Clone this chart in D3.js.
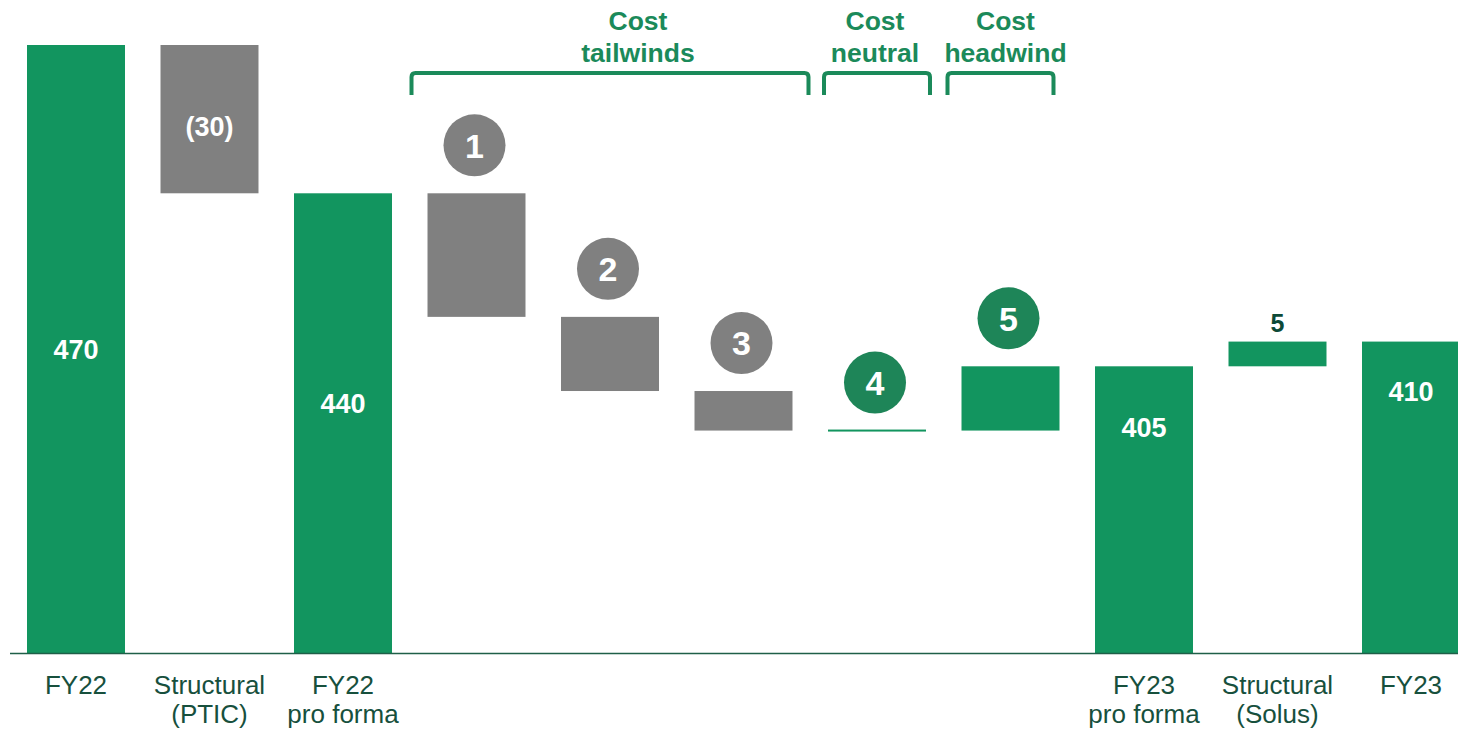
<!DOCTYPE html>
<html><head><meta charset="utf-8">
<script src="https://cdn.jsdelivr.net/npm/d3@7"></script>
<style>
html,body{margin:0;padding:0;background:#fff;}
svg{display:block;font-family:"Liberation Sans",Arial,sans-serif;}
</style></head>
<body><svg id="c" width="1458" height="729"></svg>
<script>
// ---- data ----
const categories = ["FY22","Structural (PTIC)","FY22 pro forma","Step 1","Step 2","Step 3","Step 4","Step 5","FY23 pro forma","Structural (Solus)","FY23"];
const axisLabels = [["FY22"],["Structural","(PTIC)"],["FY22","pro forma"],[""],[""],[""],[""],[""],["FY23","pro forma"],["Structural","(Solus)"],["FY23"]];
const kinds = ["total","delta","total","delta","delta","delta","delta","delta","total","delta","total"];
const values = [470,-30,440,-25,-15,-8,0,13,405,5,410];
const valueLabels = ["470","(30)","440","","","","","","405","5","410"];
const markers = ["","","","1","2","3","4","5","","",""];
const groups = [
  {label:["Cost","tailwinds"], from:3, to:5},
  {label:["Cost","neutral"], from:6, to:6},
  {label:["Cost","headwind"], from:7, to:7}
];

// ---- build waterfall ----
let run = 0;
const bars = categories.map((c,i)=>{
  let y0,y1;
  if(kinds[i]==="total"){ y0 = 347; y1 = values[i]; run = values[i]; }
  else { y0 = run; y1 = run + values[i]; run = y1; }
  return {c,i,kind:kinds[i],v:values[i],lo:Math.min(y0,y1),hi:Math.max(y0,y1),label:valueLabels[i],marker:markers[i]};
});

const GREEN="#12955f", GREY="#808080", DARKG="#1e8558", TXTG="#1b8a5a", AXG="#17503d";
const svg = d3.select("#c");
const x = d3.scaleBand().domain(categories).range([9.25,1477.75]).paddingInner(0.266).paddingOuter(0.133);
const y = d3.scaleLinear().domain([347,470]).range([653,45]);
const bw = x.bandwidth();

function barColor(b){
  if(b.kind==="total") return GREEN;
  if(b.c==="Structural (PTIC)") return GREY;
  if(b.c==="Structural (Solus)") return GREEN;
  return b.v<0 ? GREY : GREEN;
}

svg.append("g").selectAll("rect").data(bars).join("rect")
  .attr("x",d=>x(d.c)).attr("width",bw)
  .attr("y",d=> d.hi===d.lo ? y(d.hi)-1 : y(d.hi))
  .attr("height",d=> Math.max(2, y(d.lo)-y(d.hi)))
  .attr("fill",barColor);

// baseline
svg.append("line").attr("x1",10).attr("x2",1458).attr("y1",653.5).attr("y2",653.5)
  .attr("stroke","#1f5f48").attr("stroke-width",1.5);

// value labels
const labelOffset = {"FY22":304,"FY22 pro forma":210,"FY23 pro forma":61,"FY23":50};
svg.append("g").selectAll("text").data(bars.filter(b=>b.label)).join("text")
  .attr("x",d=>x(d.c)+bw/2)
  .attr("y",d=>{
    if(d.kind==="total") return y(d.hi)+labelOffset[d.c];
    if(d.v<0) return (y(d.hi)+y(d.lo))/2+7;
    return y(d.hi)-19;
  })
  .attr("dy","0.36em").attr("text-anchor","middle")
  .attr("font-size",d=> (d.kind==="delta" && d.v>0) ? 25 : 27).attr("font-weight","bold")
  .attr("fill",d=> (d.kind==="delta" && d.v>0) ? "#0d4a37" : "#fff")
  .text(d=>d.label);

// markers
const mk = svg.append("g").selectAll("g").data(bars.filter(b=>b.marker)).join("g")
  .attr("transform",d=>`translate(${x(d.c)+bw/2-2},${y(d.hi)-48})`);
mk.append("circle").attr("r",31).attr("fill",d=>d.v<0?GREY:DARKG);
mk.append("text").attr("text-anchor","middle").attr("dy","0.36em")
  .attr("font-size",34).attr("font-weight","bold").attr("fill","#fff").text(d=>d.marker);

// group brackets
const gshift = [0,0,-10];
const tshift = [28,-2,5];
groups.forEach((g,k)=>{
  const a = x(categories[g.from]), b = x(categories[g.to])+bw;
  const extra = g.from===g.to ? 4 : 16;
  const x0 = a-extra+gshift[k], x1 = b+extra+gshift[k];
  const top=73, bot=95, r=4;
  svg.append("path")
    .attr("d",`M${x0},${bot} L${x0},${top+r} Q${x0},${top} ${x0+r},${top} L${x1-r},${top} Q${x1},${top} ${x1},${top+r} L${x1},${bot}`)
    .attr("fill","none").attr("stroke",TXTG).attr("stroke-width",4);
  const cx=(x0+x1)/2+tshift[k];
  g.label.forEach((t,j)=>{
    svg.append("text").attr("x",cx).attr("y",20+j*32).attr("dy","0.36em")
      .attr("text-anchor","middle").attr("font-size",26.5).attr("font-weight","bold")
      .attr("fill",TXTG).text(t);
  });
});

// axis labels
const ax = svg.append("g").selectAll("text").data(bars).join("text")
  .attr("x",d=>x(d.c)+bw/2).attr("text-anchor","middle")
  .attr("font-size",26).attr("fill",AXG);
ax.each(function(d){
  const t=d3.select(this);
  axisLabels[d.i].forEach((line,j)=>{
    t.append("tspan").attr("x",x(d.c)+bw/2).attr("y",685+j*29).attr("dy","0.36em").text(line);
  });
});
</script></body></html>
